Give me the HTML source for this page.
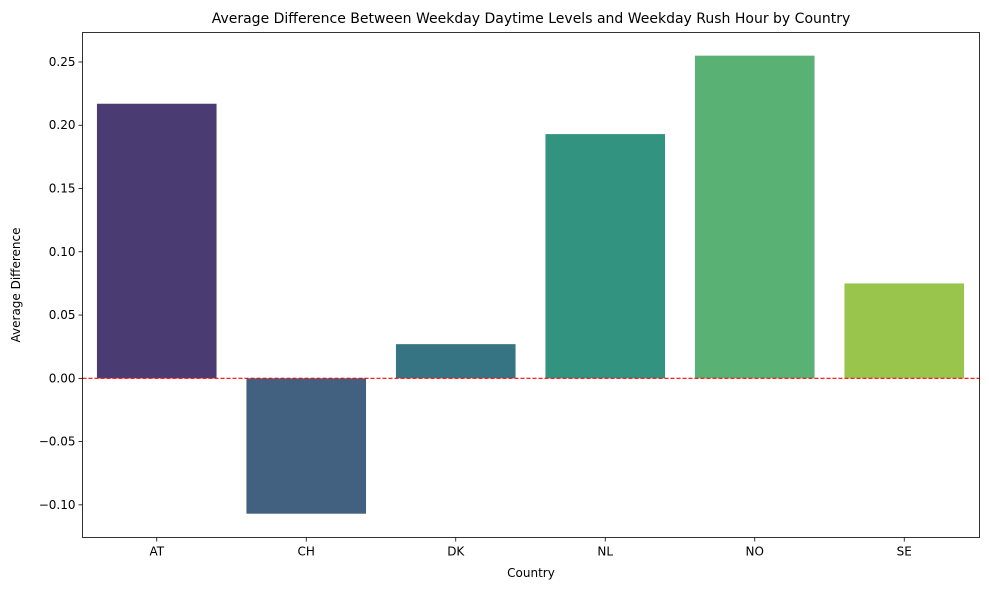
<!DOCTYPE html>
<html><head><meta charset="utf-8"><style>
body{margin:0;background:#fff;font-family:"Liberation Sans","DejaVu Sans",sans-serif;}
svg text{font-family:"DejaVu Sans","Liberation Sans",sans-serif;}
</style></head><body>
<svg id="chart" width="989" height="590" xmlns="http://www.w3.org/2000/svg"></svg>
<script>
const categories = ["AT","CH","DK","NL","NO","SE"];
const values = [0.217, -0.107, 0.027, 0.193, 0.255, 0.075];
const colors = ["#4a3b73","#42607f","#377483","#319380","#59b174","#9ac54d"];
const yTicks = [-0.10,-0.05,0.00,0.05,0.10,0.15,0.20,0.25];
const yTickLabels = ["\u22120.10","\u22120.05","0.00","0.05","0.10","0.15","0.20","0.25"];

const svg = document.getElementById('chart');
const NS = "http://www.w3.org/2000/svg";
const L=82.5, R=979.5, T=32.5, B=537.5;
const yMin=-0.1258, yMax=0.2733;
const y = v => B - (v - yMin)/(yMax - yMin)*(B - T);
const band = (R - L)/categories.length;
const x = i => L + band*i + band/2 - 0.5;
function mk(tag, attrs, text){
  const e=document.createElementNS(NS,tag);
  for(const k in attrs) e.setAttribute(k, attrs[k]);
  if(text!==undefined) e.textContent=text;
  svg.appendChild(e); return e;
}
let e;
e = mk('text',{x:531,y:23,'text-anchor':'middle','font-size':14,fill:'#000'},'Average Difference Between Weekday Daytime Levels and Weekday Rush Hour by Country');



categories.forEach((c,i)=>{
  const w = band*0.8;
  const y0 = y(0), y1 = y(values[i]);
  const r = mk('rect',{x:x(i)-w/2,y:Math.min(y0,y1),width:w,height:Math.abs(y1-y0),fill:colors[i]});
  
  
  const t = mk('line',{x1:x(i),x2:x(i),y1:B,y2:B+4,stroke:'#000','stroke-width':0.8});
  
  
  const lb = mk('text',{x:x(i),y:B+18,'text-anchor':'middle','font-size':12,fill:'#000'},c);
  
  
});
yTicks.forEach((v,i)=>{
  const t = mk('line',{x1:L-4,x2:L,y1:y(v),y2:y(v),stroke:'#000','stroke-width':0.8});
  
  
  const lb = mk('text',{x:L-7,y:y(v)+4,'text-anchor':'end','font-size':12,fill:'#000'},yTickLabels[i]);
  
  
});
e = mk('line',{x1:L,x2:R,y1:y(0),y2:y(0),stroke:'#ff0000','stroke-width':1.2,'stroke-dasharray':'4,2'});


e = mk('rect',{x:L,y:T,width:R-L,height:B-T,fill:'none',stroke:'#000','stroke-width':0.8});


e = mk('text',{x:531,y:577,'text-anchor':'middle','font-size':12,fill:'#000'},'Country');


e = mk('text',{x:20,y:285,'text-anchor':'middle','font-size':12,fill:'#000',transform:'rotate(-90 20 285)'},'Average Difference');


</script>
</body></html>
